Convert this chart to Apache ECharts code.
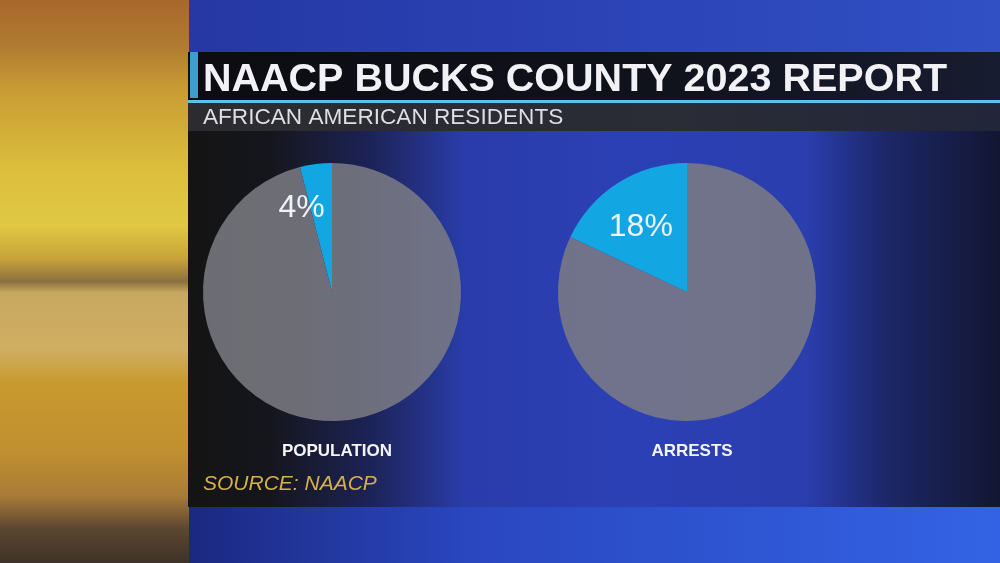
<!DOCTYPE html>
<html>
<head>
<meta charset="utf-8">
<script src="https://cdn.jsdelivr.net/npm/echarts@6/dist/echarts.min.js"></script>
<style>
  html, body { margin: 0; padding: 0; background: #2a3da8; }
  #chart { width: 1000px; height: 563px; }
</style>
</head>
<body>
<div id="chart"></div>
<script>
const pieNames = ['POPULATION', 'ARRESTS'];
const africanAmericanPct = [4, 18];
const restPct = [96, 82];

const titleText = 'NAACP BUCKS COUNTY 2023 REPORT';
const subtitleText = 'AFRICAN AMERICAN RESIDENTS';
const sourceText = 'SOURCE: NAACP';

const pieCenters = [[332, 292], [687, 292]];
const pieRadius = 129;
const labelOffsets = [[-22, -17], [-10, -8]];

const myChart = echarts.init(document.getElementById('chart'), null, { renderer: 'canvas' });

function lin(x0, y0, x1, y1, stops) {
  return new echarts.graphic.LinearGradient(x0, y0, x1, y1,
    stops.map(s => ({ offset: s[0], color: s[1] })));
}

// background pieces (studio look)
const background = [
  { type: 'rect', shape: { x: 0, y: 0, width: 1000, height: 563 },
    style: { fill: lin(0, 0, 1, 0, [[0, '#22339a'], [0.5, '#2a40b2'], [1, '#3050c4']]) } },
  { type: 'rect', shape: { x: 188, y: 507, width: 812, height: 56 },
    style: { fill: lin(0, 0, 1, 0, [[0, '#1b2880'], [0.35, '#2a47c0'], [1, '#3363e4']]) } },
  { type: 'rect', shape: { x: 0, y: 0, width: 189, height: 563 },
    style: { fill: lin(0, 0, 0, 1, [
      [0, '#a8682c'], [0.08, '#b07a30'], [0.16, '#c89c34'], [0.3, '#dcbe3c'],
      [0.4, '#e0c844'], [0.46, '#c8a23a'], [0.5, '#8a7040'], [0.52, '#c8a860'],
      [0.62, '#d0ae62'], [0.68, '#c89a2e'], [0.8, '#c09030'], [0.88, '#a87c38'],
      [0.94, '#5c4630'], [1, '#3e3228']]) } },
  { type: 'rect', shape: { x: 188, y: 52, width: 812, height: 48 },
    style: { fill: lin(0, 0, 1, 0, [[0, '#0c0c12'], [0.6, '#10121c'], [1, '#181c30']]) } },
  { type: 'rect', shape: { x: 190, y: 52, width: 8, height: 46 },
    style: { fill: '#3aa0c8' } },
  { type: 'rect', shape: { x: 188, y: 100, width: 812, height: 3 },
    style: { fill: '#5cc0e8' } },
  { type: 'rect', shape: { x: 188, y: 103, width: 812, height: 28 },
    style: { fill: lin(0, 0, 1, 0, [[0, '#2c2c30'], [0.6, '#2a2c36'], [1, '#22263a']]) } },
  { type: 'rect', shape: { x: 188, y: 131, width: 812, height: 376 },
    style: { fill: lin(0, 0, 1, 0, [
      [0, '#141414'], [0.1, '#15161c'], [0.22, '#1c2254'], [0.34, '#2a3caa'],
      [0.55, '#2c40b6'], [0.76, '#2a3eae'], [0.86, '#1c2768'], [1, '#121632']]) } }
];

const texts = [
  { type: 'text', left: 203, top: 60,
    style: { text: titleText, fill: '#f2f2f6', font: 'bold 39.5px "Liberation Sans", Arial, sans-serif' } },
  { type: 'text', left: 203, top: 106,
    style: { text: subtitleText, fill: '#dedee6', font: '22.6px "Liberation Sans", Arial, sans-serif' } },
  { type: 'text', left: 203, top: 474,
    style: { text: sourceText, fill: '#d6b04a', font: 'italic 21px "Liberation Sans", Arial, sans-serif' } }
];

const series = pieNames.map((name, i) => ({
  name: name,
  type: 'pie',
  center: pieCenters[i],
  radius: pieRadius,
  startAngle: 90,
  clockwise: false,
  animation: false,
  silent: true,
  emphasis: { disabled: true },
  itemStyle: { borderWidth: 0 },
  labelLine: { show: false },
  data: [
    { name: 'African American', value: africanAmericanPct[i],
      itemStyle: { color: '#12a6e2' },
      label: {
        show: true, position: 'inside', formatter: '{c}%',
        offset: labelOffsets[i],
        color: '#eef3f8', fontSize: 32,
        fontFamily: '"Liberation Sans", Arial, sans-serif'
      } },
    { name: 'Other', value: restPct[i],
      itemStyle: { color: 'rgba(124,124,132,0.86)' },
      label: { show: false } }
  ]
}));

const option = {
  backgroundColor: 'transparent',
  graphic: background.concat(texts),
  title: pieNames.map((name, i) => ({
    text: name,
    left: pieCenters[i][0],
    top: 438,
    textAlign: 'center',
    textStyle: {
      color: '#f4f4f8', fontSize: 17, fontWeight: 'bold',
      fontFamily: '"Liberation Sans", Arial, sans-serif'
    }
  })),
  tooltip: { show: false },
  legend: { show: false },
  series: series
};

myChart.setOption(option);
</script>
</body>
</html>
